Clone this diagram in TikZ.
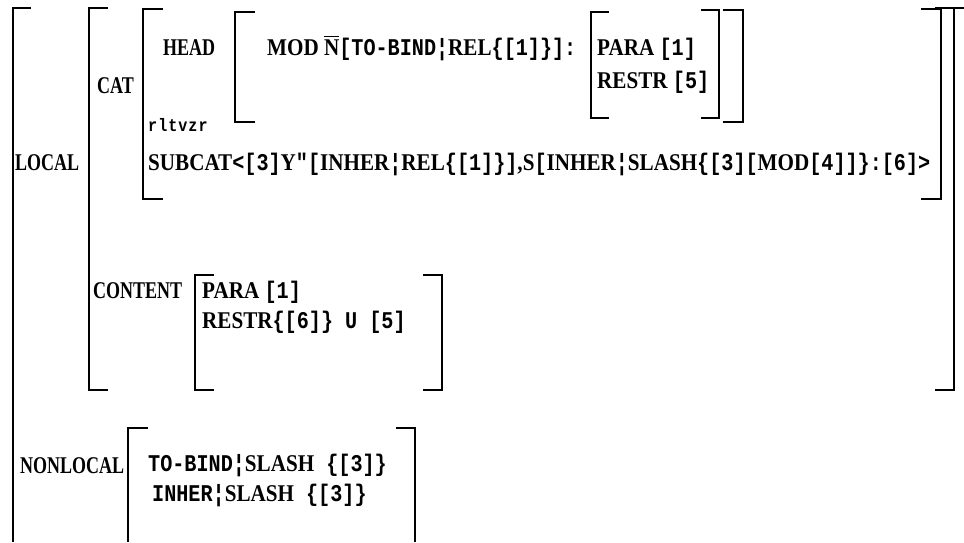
\documentclass[tikz,border=0pt]{standalone}
\usepackage{fontspec}
\setmainfont{Liberation Serif}[FakeStretch=0.88]
\newfontfamily\labelfam{Liberation Serif}[FakeStretch=0.75]
\newfontfamily\monofam{Liberation Mono}[FakeStretch=0.84]
\newcommand\M[1]{{\monofam\bfseries\fontsize{24}{26}\selectfont #1}}
\newcommand\Nbar{\leavevmode\vbox{\hrule height 1.4pt\kern1.8pt\hbox{N}}}
\newcommand\lbrk[4]{\draw[brk] ({#1+#4},#2) -- (#1,#2) -- (#1,#3) -- ({#1+#4},#3);}
\newcommand\rbrk[4]{\draw[brk] ({#1-#4},#2) -- (#1,#2) -- (#1,#3) -- ({#1-#4},#3);}
\begin{document}
\begin{tikzpicture}[x=1pt,y=-1pt,
  brk/.style={line width=2pt},
  tx/.style={anchor=base west, inner sep=0pt, font=\bfseries\fontsize{24}{26}\selectfont},
  lab/.style={anchor=base west, inner sep=0pt, font=\labelfam\bfseries\fontsize{24}{26}\selectfont},
  small/.style={anchor=base west, inner sep=0pt, font=\monofam\bfseries\fontsize{18}{20}\selectfont}]
\useasboundingbox (0,0) rectangle (964,542);
% outer structure bracket
\draw[brk] (31,8) -- (13,8) -- (13,542);
\draw[brk] (944,8) -- (964,8);
% LOCAL value
\lbrk{89}{8}{390}{19}
\rbrk{954}{8}{390}{19}
% CAT value
\lbrk{143}{9}{199}{20}
\rbrk{941}{9}{199}{20}
% HEAD value
\lbrk{235}{12}{122}{20}
\rbrk{743}{10}{122}{20}
% PARA/RESTR
\lbrk{591}{12}{118}{18}
\rbrk{719}{10}{118}{18}
% CONTENT value
\lbrk{195}{275}{390}{19}
\rbrk{442}{275}{390}{19}
% NONLOCAL value
\draw[brk] (148,428) -- (128,428) -- (128,542);
\draw[brk] (396,428) -- (415,428) -- (415,542);
% labels and texts
\node[lab] (local) at (15,170) {LOCAL};
\node[lab] (cat) at (97,93) {CAT};
\node[lab] (head) at (163,55) {HEAD};
\node[small] (rl) at (148,131) {r\kern1pt l\kern1pt t\kern1pt v\kern1pt z\kern1pt r};
\node[tx] (mod) at (267,55) {MOD \Nbar\M{[TO-BIND¦}REL\M{\{[1]\}]:}};
\node[tx] (para1) at (597,55) {PARA \M{[1]}};
\node[tx] (restr1) at (597,88) {RESTR \M{[5]}};
\node[tx] (subcat) at (148,170) {SUBCAT\M{<[3]}Y\M{"[}INHER\M{¦}REL\M{\{[1]\}]},S\M{[}INHER\M{¦}SLASH\M{\{[3][}MOD\M{[4]]\}:[6]>}};
\node[lab] (content) at (93,298) {CONTENT};
\node[tx] (para2) at (202,298) {PARA \M{[1]}};
\node[tx] (restr2) at (202,328) {RESTR\M{\{[6]\} U [5]}};
\node[lab] (nonlocal) at (20,473) {NONLOCAL};
\node[tx] (tobind) at (148,471) {\M{TO-BIND¦}SLASH\M{ \{[3]\}}};
\node[tx] (inher) at (152,501) {\M{INHER¦}SLASH\M{ \{[3]\}}};
\end{tikzpicture}
\end{document}
